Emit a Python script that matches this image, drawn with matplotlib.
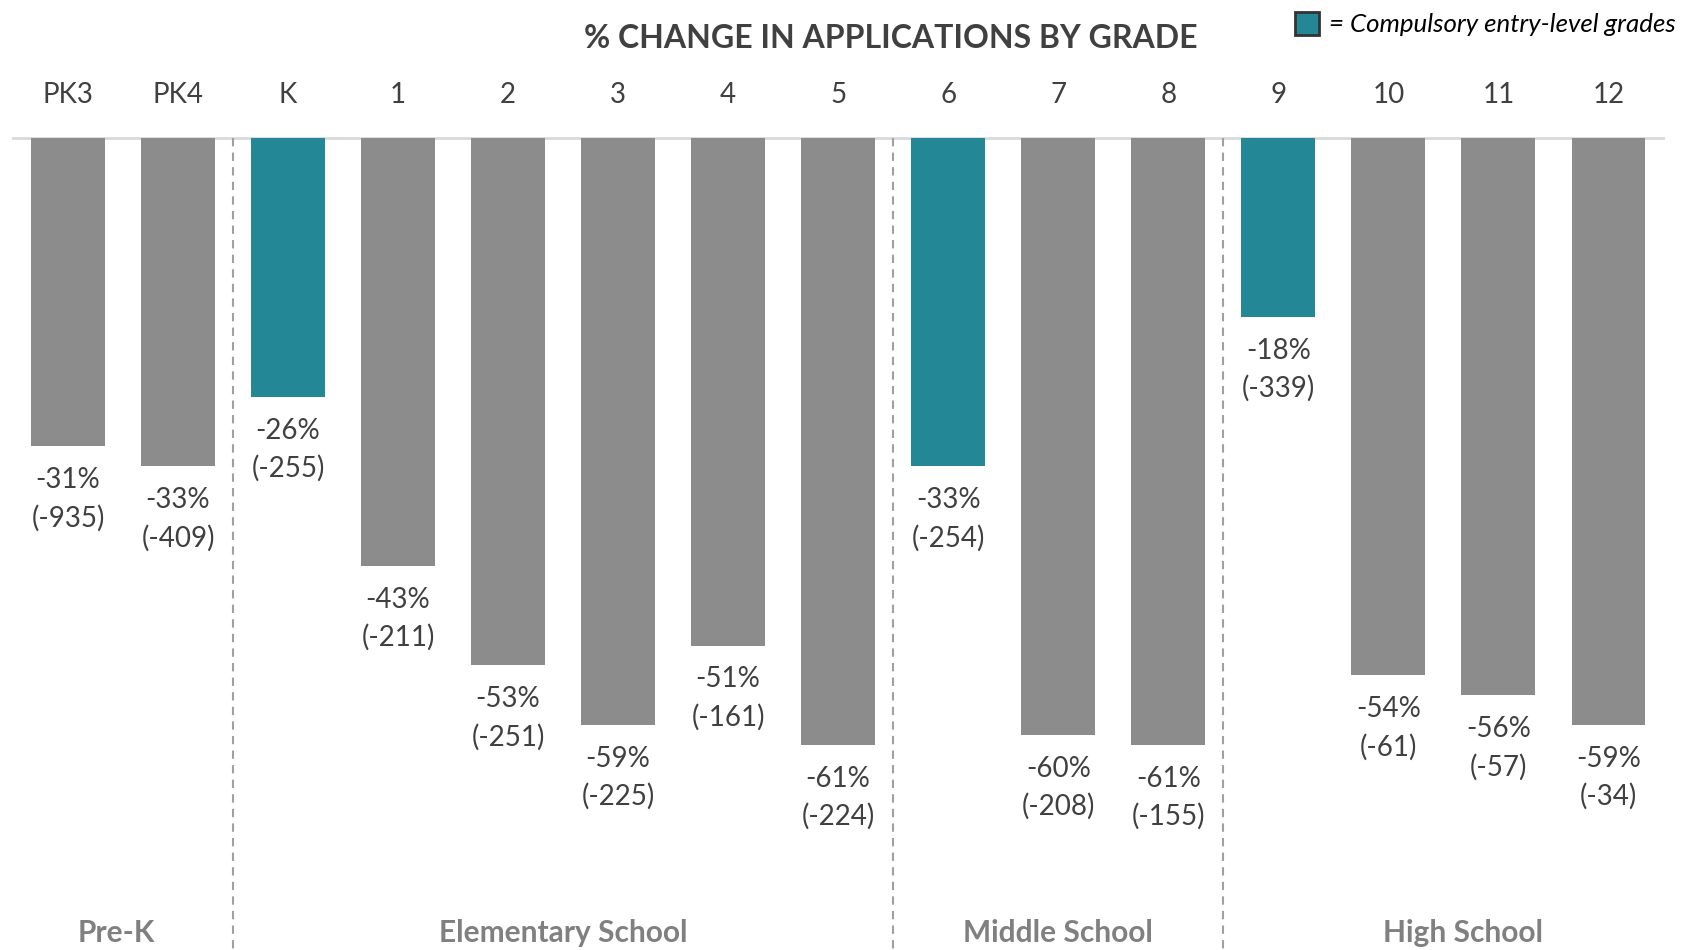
import matplotlib.pyplot as plt
from matplotlib.patches import Rectangle

plt.rcParams['font.family'] = ['Lato', 'DejaVu Sans']

grades = ['PK3', 'PK4', 'K', '1', '2', '3', '4', '5', '6', '7', '8', '9', '10', '11', '12']
pct_change = [-31, -33, -26, -43, -53, -59, -51, -61, -33, -60, -61, -18, -54, -56, -59]
count_change = [-935, -409, -255, -211, -251, -225, -161, -224, -254, -208, -155, -339, -61, -57, -34]
entry_grades = ['K', '6', '9']
groups = ['Pre-K', 'Elementary School', 'Middle School', 'High School']
group_breaks = [1.5, 7.5, 10.5]

gray = '#8c8c8c'
teal = '#238795'
txt = '#404040'

fig = plt.figure(figsize=(17.03, 9.5), dpi=100)
ax = fig.add_axes([0, 0, 1, 1])
x0, x1 = -0.618, 14.86
ax.set_xlim(x0, x1)
ax.set_ylim(-81.6, 13.87)
ax.axis('off')

x = list(range(len(grades)))
colors = [teal if g in entry_grades else gray for g in grades]
ax.bar(x, pct_change, width=0.67, color=colors, zorder=2)
ax.plot([-0.5, 14.5], [0, 0], color='#d9d9d9', lw=2, zorder=1)

for i, g in enumerate(grades):
    ax.text(i, 4.3, g, ha='center', va='center', fontsize=20, color=txt)
    v = pct_change[i]
    ax.text(i, v - 3.4, f'{v}%', ha='center', va='center', fontsize=20, color=txt)
    ax.text(i, v - 7.2, f'({count_change[i]})', ha='center', va='center', fontsize=20, color=txt)

for b in group_breaks:
    ax.plot([b, b], [0, -82], color='#a0a0a0', lw=1.5, ls=(0, (4, 3)), zorder=1)

edges = [x0] + group_breaks + [x1]
for k, name in enumerate(groups):
    ax.text((edges[k] + edges[k + 1]) / 2, -79.9, name, ha='center', va='center',
            fontsize=21.5, fontweight='bold', color='#808080')

ax.text(7.48, 10.0, '% CHANGE IN APPLICATIONS BY GRADE', ha='center', va='center',
        fontsize=23, fontweight='bold', color=txt)

ax.add_patch(Rectangle((11.15, 10.4), 0.22, 2.3, facecolor=teal, edgecolor='#333333', lw=2))
ax.text(11.46, 11.4, '= Compulsory entry-level grades', ha='left', va='center',
        fontsize=18.6, style='italic', color='black')

fig.savefig('out.png', dpi=100)
